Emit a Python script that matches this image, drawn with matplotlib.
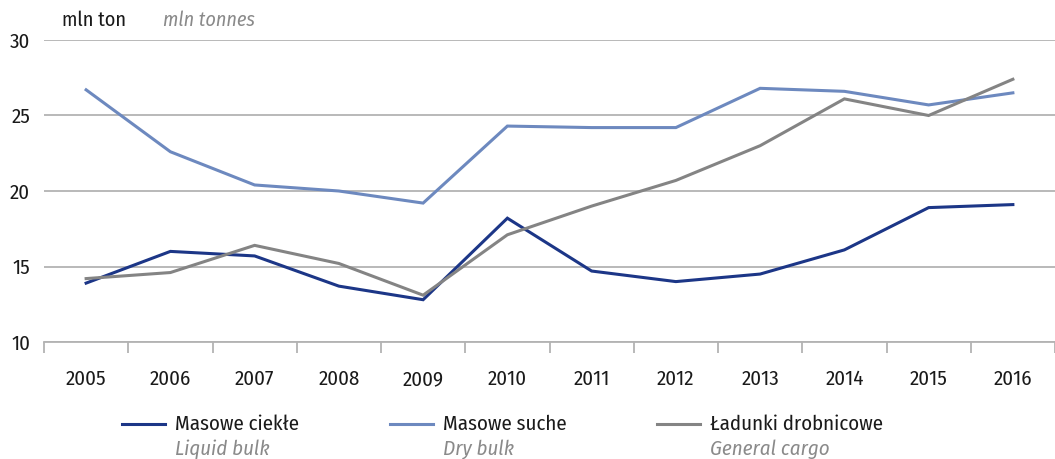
import matplotlib
matplotlib.use("Agg")
import matplotlib.pyplot as plt
from matplotlib.lines import Line2D
import numpy as np

plt.rcParams["font.family"] = ["Fira Sans Condensed", "DejaVu Sans"]

years = ["2005", "2006", "2007", "2008", "2009", "2010",
         "2011", "2012", "2013", "2014", "2015", "2016"]
liquid_bulk = [13.9, 16.0, 15.7, 13.7, 12.8, 18.2, 14.7, 14.0, 14.5, 16.1, 18.9, 19.1]
dry_bulk = [26.7, 22.6, 20.4, 20.0, 19.2, 24.3, 24.2, 24.2, 26.8, 26.6, 25.7, 26.5]
general_cargo = [14.2, 14.6, 16.4, 15.2, 13.1, 17.1, 19.0, 20.7, 23.0, 26.1, 25.0, 27.4]

labels_pl = ["Masowe ciekłe", "Masowe suche", "Ładunki drobnicowe"]
labels_en = ["Liquid bulk", "Dry bulk", "General cargo"]
colors = ["#1c3687", "#6d89bf", "#848484"]

fig = plt.figure(figsize=(10.55, 4.59), dpi=100)
ax = fig.add_axes([44 / 1055, 1 - 342 / 459, 1 - 44 / 1055, (342 - 40) / 459])

x = np.arange(len(years))
for vals, c in zip([liquid_bulk, dry_bulk, general_cargo], colors):
    ax.plot(x, vals, color=c, lw=2.2, solid_joinstyle="miter")

ax.set_xlim(-0.5, len(years) - 0.5)
ax.set_ylim(10, 30)
ax.set_yticks([10, 15, 20, 25, 30])
ax.yaxis.grid(True, color="#b3b3b3", lw=1.3)
ax.set_axisbelow(True)
for s in ["top", "right", "left"]:
    ax.spines[s].set_visible(False)
ax.spines["bottom"].set_color("#b3b3b3")
ax.spines["bottom"].set_linewidth(1.3)

# category labels in the middle, tick marks at the boundaries
ax.set_xticks(x)
ax.set_xticklabels(years)
ax.tick_params(axis="x", which="major", length=0, pad=20, labelsize=15, colors="#1a1a1a")
ax.set_xticks(np.arange(-0.5, len(years), 1), minor=True)
ax.tick_params(axis="x", which="minor", length=8, width=1.3, color="#b3b3b3")
ax.tick_params(axis="y", length=0, pad=10, labelsize=15, colors="#1a1a1a")

fig.text(62 / 1055, 1 - 20 / 459, "mln ton", fontsize=14.5, color="#1a1a1a", va="center")
fig.text(163 / 1055, 1 - 20 / 459, "mln tonnes", fontsize=14.5, color="#8a8a8a",
         style="italic", va="center")

# legend
leg_x = [122, 390, 657]
for lx, c, pl, en in zip(leg_x, colors, labels_pl, labels_en):
    fig.add_artist(Line2D([lx / 1055, (lx + 43) / 1055], [1 - 424 / 459] * 2,
                          color=c, lw=2.2, transform=fig.transFigure))
    fig.text((lx + 53) / 1055, 1 - 424 / 459, pl, fontsize=15, color="#1a1a1a", va="center")
    fig.text((lx + 53) / 1055, 1 - 449 / 459, en, fontsize=15, color="#8a8a8a",
             style="italic", va="center")

fig.savefig("out.png", dpi=100)
